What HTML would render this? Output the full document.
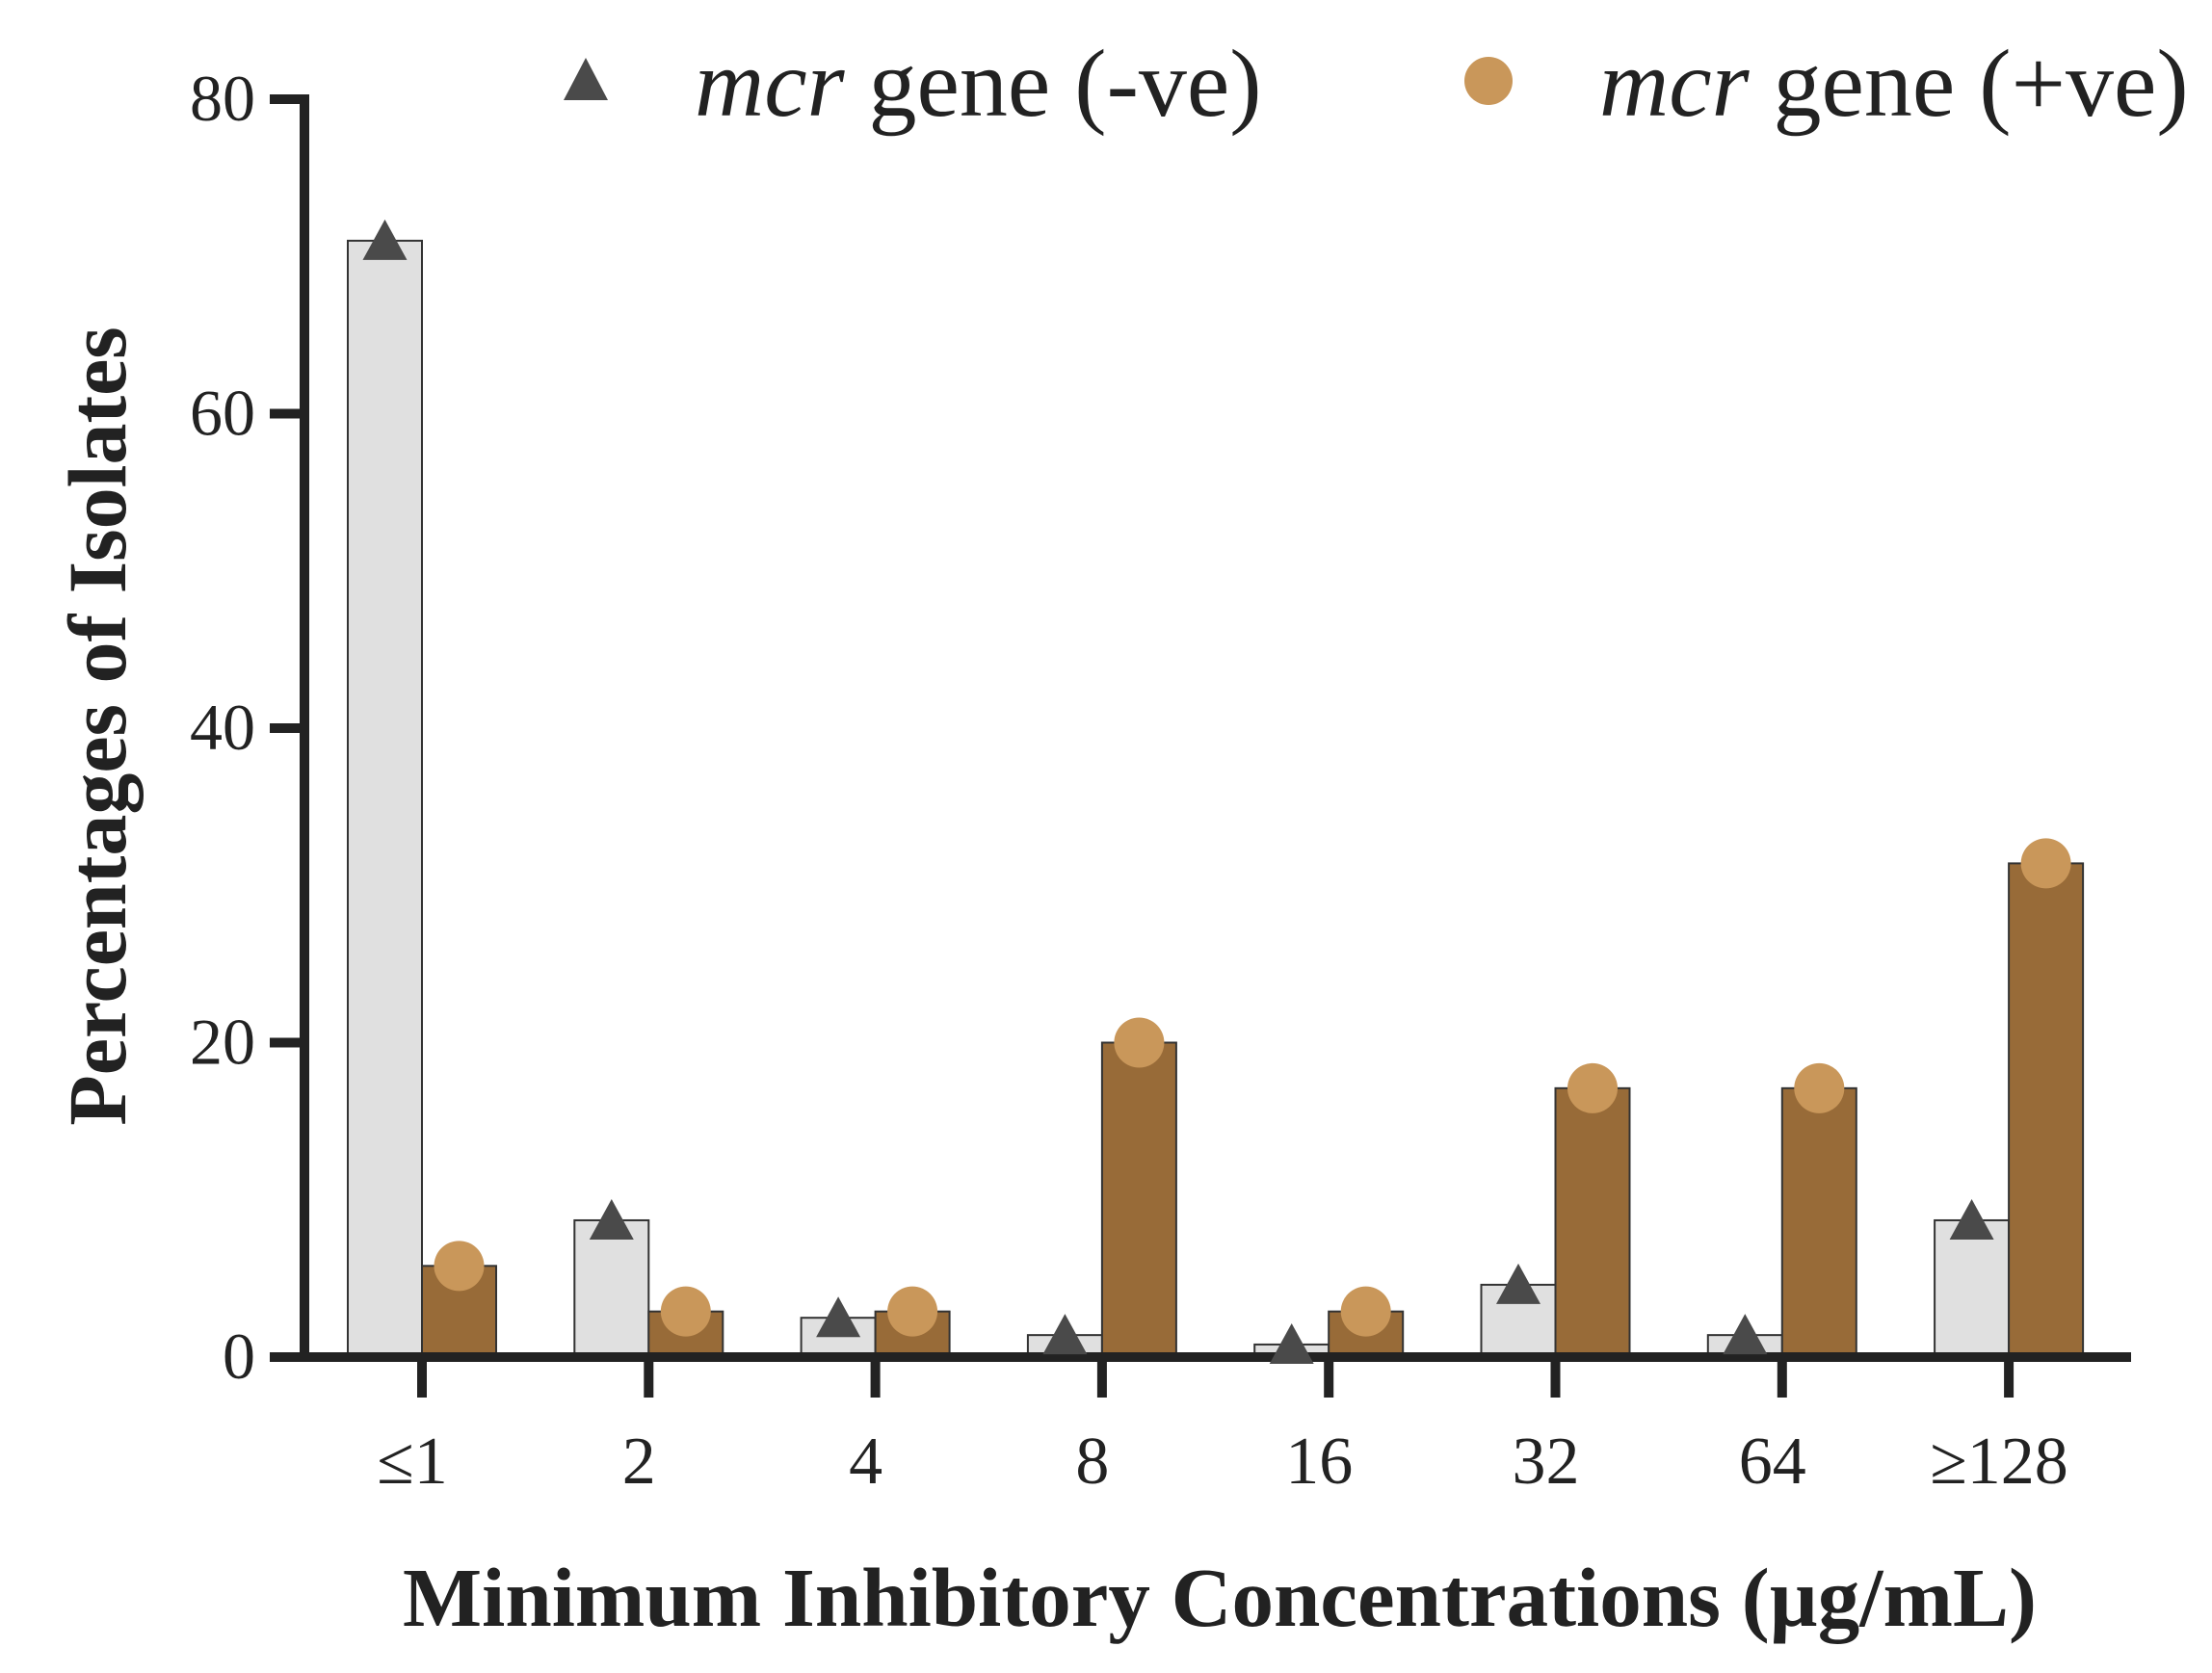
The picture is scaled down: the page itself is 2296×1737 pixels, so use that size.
<!DOCTYPE html>
<html><head><meta charset="utf-8"><style>
html,body{margin:0;padding:0;background:#fff}
svg{display:block}
text{font-family:"Liberation Serif",serif;fill:#222}
</style></head><body>
<svg id="chart" width="2296" height="1737" viewBox="0 0 2296 1737" xmlns="http://www.w3.org/2000/svg">
<g id="bars"></g>
<g id="axes"></g>
<g id="markers"></g>
<g>
<polygon points="608,60 585,104 631,104" fill="#4a4a4a"/>
<text x="721" y="120" font-size="100"><tspan font-style="italic">mcr</tspan> gene (-ve)</text>
<circle cx="1545" cy="84" r="25" fill="#c9975a"/>
<text x="1660" y="120" font-size="100"><tspan font-style="italic">mcr</tspan> gene (+ve)</text>
</g>
<text transform="translate(130,754) rotate(-90)" text-anchor="middle" font-size="86" font-weight="bold">Percentages of Isolates</text>
<text x="1266" y="1688" text-anchor="middle" font-size="87" font-weight="bold">Minimum Inhibitory Concentrations (µg/mL)</text>
</svg>
<script>
const categories=["≤1","2","4","8","16","32","64","≥128"];
const negValues=[71,8.7,2.5,1.4,0.8,4.6,1.4,8.7];
const posValues=[5.8,2.9,2.9,20,2.9,17.1,17.1,31.4];
const yTicks=[0,20,40,60,80];
const NS="http://www.w3.org/2000/svg";
const y0=1409,yTop=103,yMax=80;
const y=v=>y0-(y0-yTop)*v/yMax;
const x=i=>438+i*235.3;
const bw=77;
function mk(tag,attrs,parent){const e=document.createElementNS(NS,tag);for(const k in attrs)e.setAttribute(k,attrs[k]);parent.appendChild(e);return e;}
const bars=document.getElementById('bars'),axes=document.getElementById('axes'),mk2=document.getElementById('markers');
categories.forEach((c,i)=>{
  const cx=x(i);
  let b=mk('rect',{x:cx-bw,y:y(negValues[i]),width:bw,height:y0-y(negValues[i]),fill:'#e0e0e0',stroke:'#333','stroke-width':2},bars);
  
  
  let p=mk('rect',{x:cx,y:y(posValues[i]),width:bw,height:y0-y(posValues[i]),fill:'#986b38',stroke:'#333','stroke-width':2},bars);
  
  
  const tx=cx-bw/2,ty=y(negValues[i]);
  let t=mk('polygon',{points:`${tx},${ty-22} ${tx-23},${ty+20} ${tx+23},${ty+20}`,fill:'#4a4a4a'},mk2);
  
  
  let ci=mk('circle',{cx:cx+bw/2,cy:y(posValues[i]),r:26,fill:'#c9975a'},mk2);
  
  
  let tk=mk('line',{x1:cx,x2:cx,y1:y0,y2:y0+42,stroke:'#222','stroke-width':10},axes);
  
  
  let lb=mk('text',{x:cx-10,y:1540,'text-anchor':'middle','font-size':70},axes);
  lb.textContent=c;
  
  
});
yTicks.forEach((v,i)=>{
  let tk=mk('line',{x1:280,x2:316,y1:y(v),y2:y(v),stroke:'#222','stroke-width':10},axes);
  
  
  let lb=mk('text',{x:265,y:y(v)+22,'text-anchor':'end','font-size':68},axes);
  lb.textContent=v;
  
  
});
let ya=mk('line',{x1:316,x2:316,y1:yTop-5,y2:y0+5,stroke:'#222','stroke-width':10},axes);


let xa=mk('line',{x1:280,x2:2212,y1:y0,y2:y0,stroke:'#222','stroke-width':10},axes);


</script>
</body></html>
